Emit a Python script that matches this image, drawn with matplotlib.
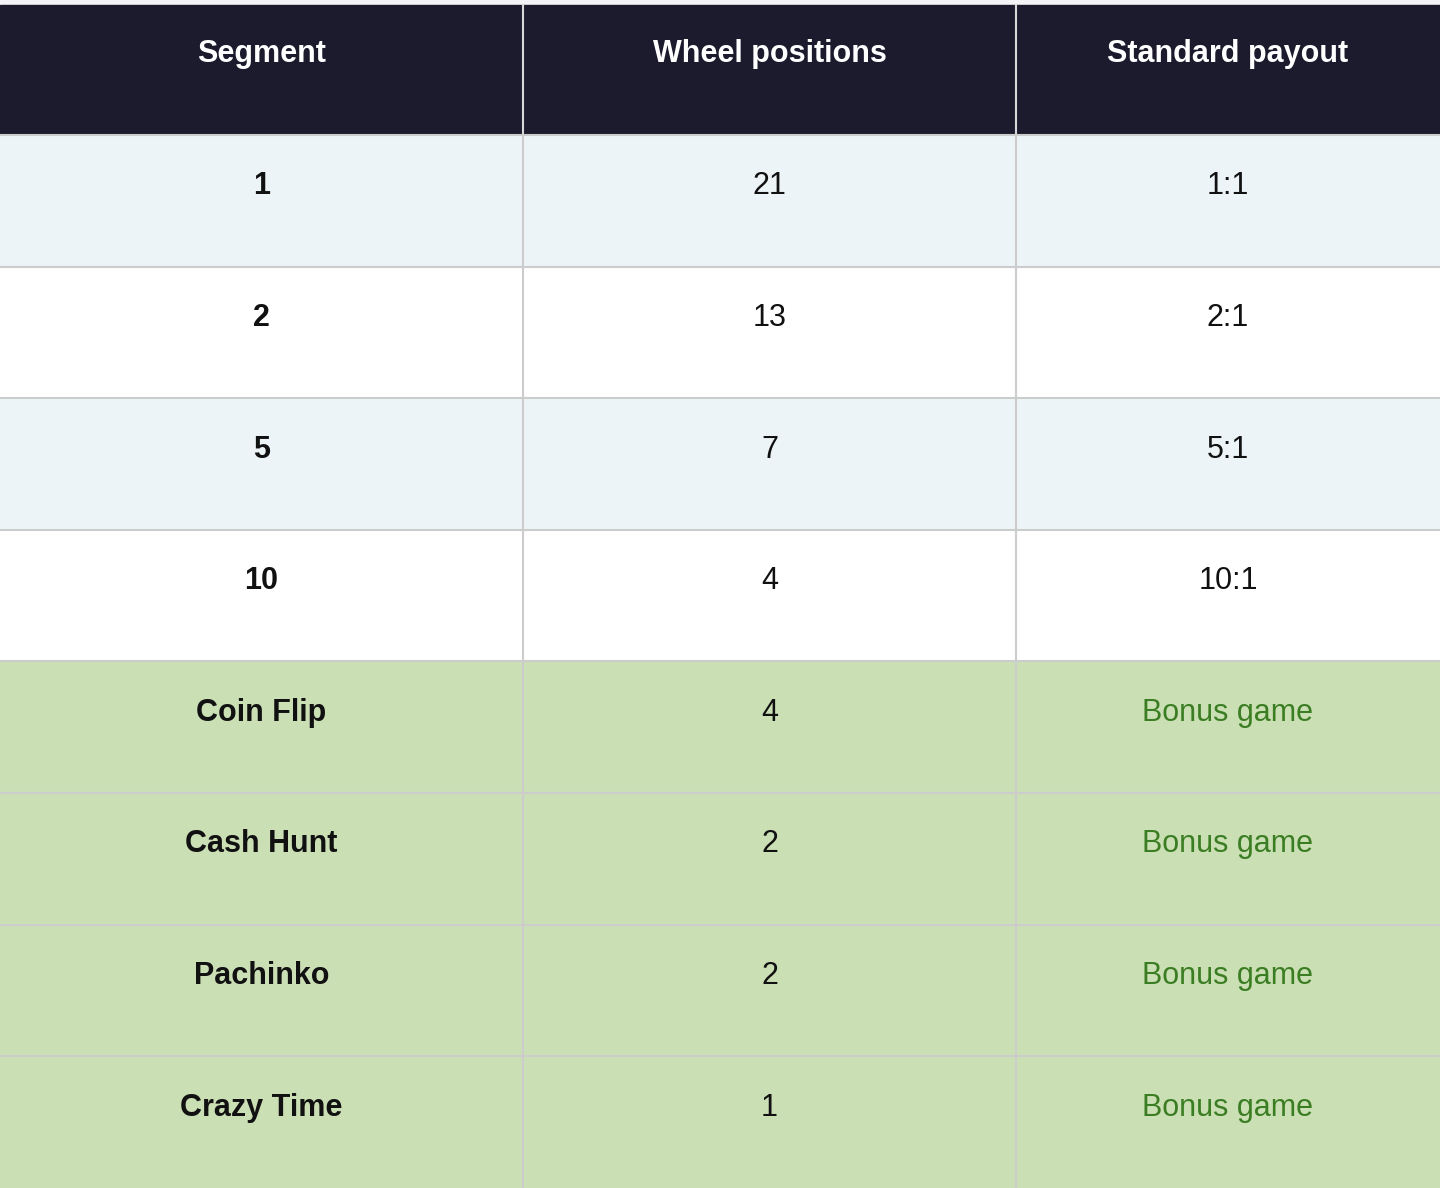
import matplotlib.pyplot as plt
from matplotlib.patches import Rectangle

headers = ["Segment", "Wheel positions", "Standard payout"]
segments = ["1", "2", "5", "10", "Coin Flip", "Cash Hunt", "Pachinko", "Crazy Time"]
positions = ["21", "13", "7", "4", "4", "2", "2", "1"]
payouts = ["1:1", "2:1", "5:1", "10:1", "Bonus game", "Bonus game", "Bonus game", "Bonus game"]
is_bonus = [False, False, False, False, True, True, True, True]

W, H = 1440, 1188
col_x = [0, 523, 1016, 1440]
top, head_h, row_h = 5, 130, 131.6

fig = plt.figure(figsize=(14.4, 11.88), dpi=100)
ax = fig.add_axes([0, 0, 1, 1])
ax.set_xlim(0, W)
ax.set_ylim(H, 0)
ax.axis("off")

font = ["Liberation Sans", "DejaVu Sans"]
ax.add_patch(Rectangle((0, 0), W, top, color="#f4f4f7", zorder=0))
ax.add_patch(Rectangle((0, top), W, head_h, color="#1c1b2e", zorder=1))
for c in range(3):
    cx = (col_x[c] + col_x[c + 1]) / 2
    ax.text(cx, top + head_h * 0.38, headers[c], color="white", ha="center", va="center",
            fontsize=22, fontweight="bold", family=font, zorder=3)
for c in (1, 2):
    ax.plot([col_x[c]] * 2, [top, top + head_h], color="#d8d8d8", lw=1.5, zorder=2)

for i, seg in enumerate(segments):
    y0 = top + head_h + i * row_h
    if is_bonus[i]:
        bg = "#cbdfb5"
    else:
        bg = "#edf4f8" if i % 2 == 0 else "#ffffff"
    ax.add_patch(Rectangle((0, y0), W, row_h, color=bg, zorder=1))
    ax.plot([0, W], [y0, y0], color="#cccccc", lw=1.5, zorder=2)
    for c in (1, 2):
        ax.plot([col_x[c]] * 2, [y0, y0 + row_h], color="#cccccc", lw=1.5, zorder=2)
    ty = y0 + row_h * 0.39
    texts = [seg, positions[i], payouts[i]]
    for c in range(3):
        cx = (col_x[c] + col_x[c + 1]) / 2
        color = "#3b7d23" if (c == 2 and is_bonus[i]) else "#111111"
        ax.text(cx, ty, texts[c], ha="center", va="center", fontsize=22,
                fontweight="bold" if c == 0 else "normal", color=color,
                family=font, zorder=3)

fig.savefig("out.png", dpi=100)
